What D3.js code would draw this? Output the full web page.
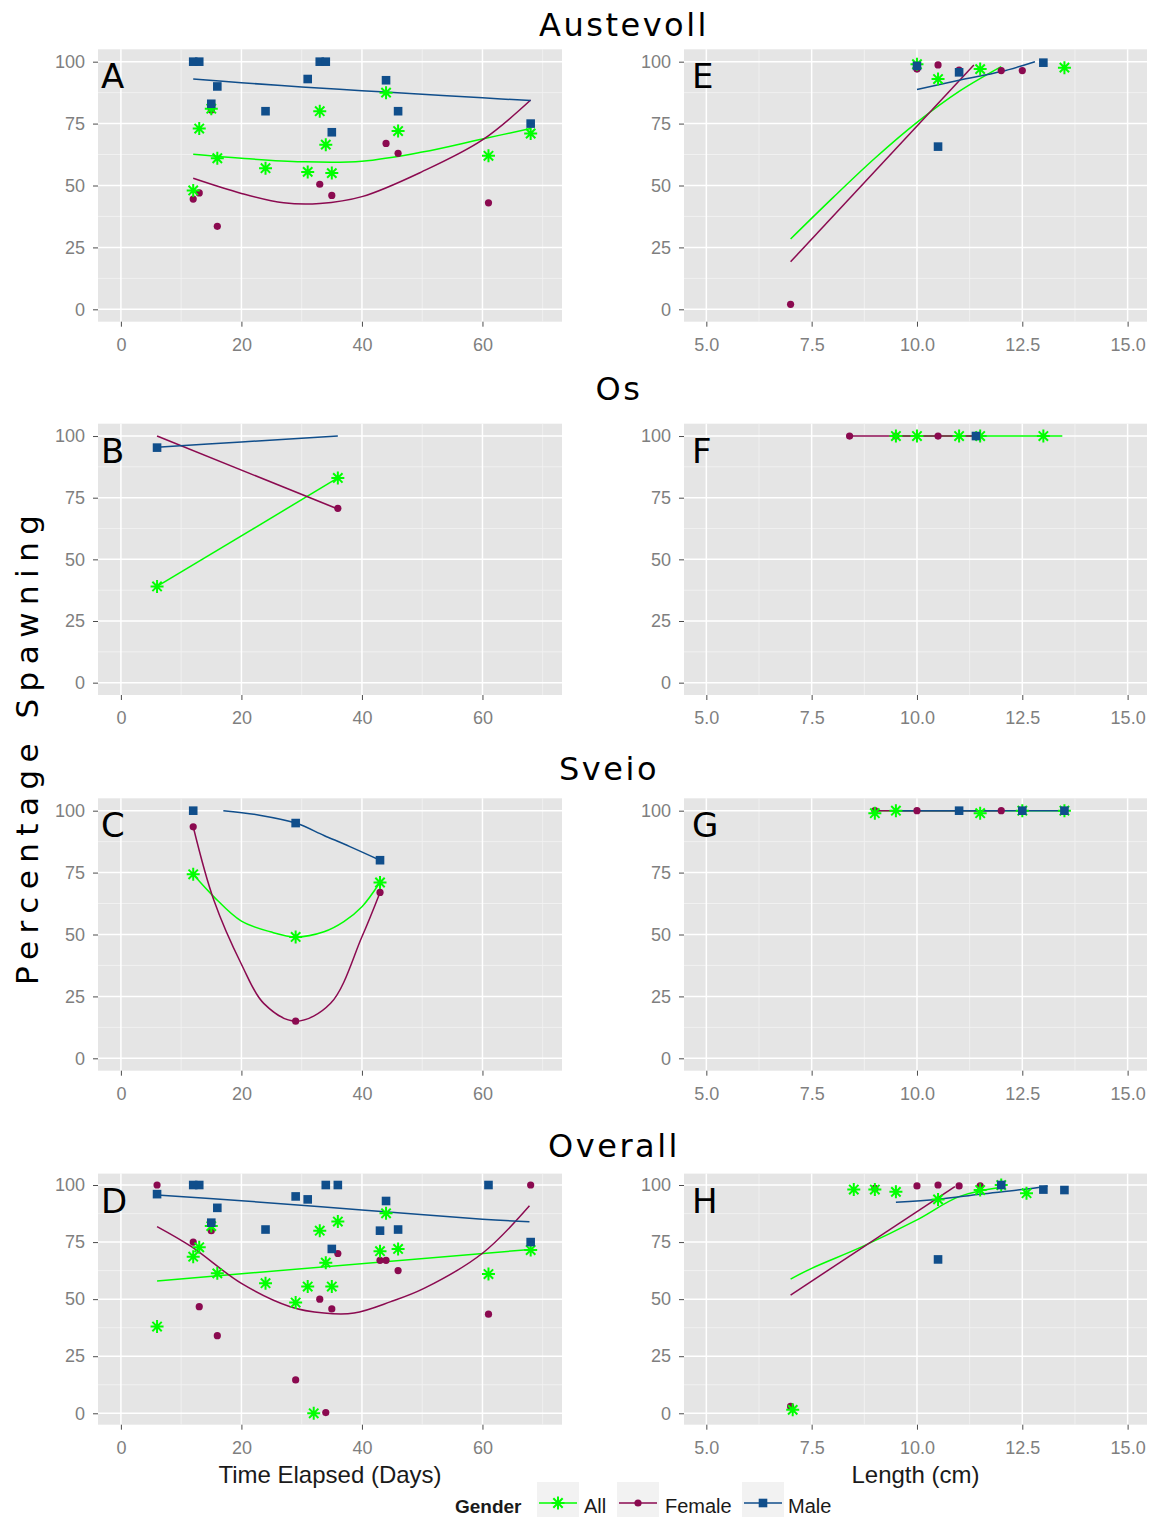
<!DOCTYPE html>
<html lang="en">
<head>
<meta charset="UTF-8">
<title>Percentage Spawning</title>
<style>
  body { margin: 0; background: #fff; }
  svg { display: block; }
  .tick text { font: 18px "Liberation Sans", Arial, sans-serif; fill: #7f7f7f; }
  .tick line { stroke: #4d4d4d; }
  .facet-title { font: 32px "DejaVu Sans", sans-serif; letter-spacing: 2.5px; text-anchor: middle; fill: #000; }
  .panel-tag { font: 34px "DejaVu Sans", sans-serif; fill: #000; }
  .axis-title { font: 24px "Liberation Sans", Arial, sans-serif; fill: #1a1a1a; text-anchor: middle; }
  .y-title { font: 31px "DejaVu Sans", sans-serif; fill: #000; text-anchor: middle; }
  .legend text { font: 20px "Liberation Sans", Arial, sans-serif; fill: #1a1a1a; }
  .legend .legend-title { font-weight: bold; font-size: 19px; }
</style>
</head>
<body>
<svg width="1151" height="1517"></svg>
<script src="https://cdnjs.cloudflare.com/ajax/libs/d3/7.8.5/d3.min.js"></script>
<script>
  // ---- data: [x, percentage] ----
  const groups = ["All", "Female", "Male"];
  const facetTitles = ["Austevoll", "Os", "Sveio", "Overall"];

  const daysTicks = [0, 20, 40, 60];
  const daysMinor = [10, 30, 50, 70];
  const lengthTicks = [5, 7.5, 10, 12.5, 15];
  const lengthMinor = [6.25, 8.75, 11.25, 13.75];
  const pctTicks = [0, 25, 50, 75, 100];
  const pctMinor = [12.5, 37.5, 62.5, 87.5];

  // Austevoll, time elapsed
  const aAll = [[12,48],[13,73],[15,81],[16,61],[24,57],[31,55.5],[33,80],[34,66.5],[35,55],[44,87.5],[46,72],[61,62],[68,71]];
  const aFemale = [[12,44.5],[13,47],[15,80.5],[16,33.5],[33,50.5],[35,46],[44,67],[46,63],[61,43]];
  const aMale = [[12,100],[13,100],[15,83],[16,90],[24,80],[31,93],[33,100],[34,100],[35,71.5],[44,92.5],[46,80],[68,75]];
  const aFitAll = [[12,62.6],[20,61],[30,59.6],[40,59.8],[50,63.5],[60,68.8],[68,73]];
  const aFitFemale = [[12,52.9],[20,46.8],[27,43],[33,42.7],[40,45.5],[50,55.6],[60,68.4],[68,84.5]];
  const aFitMale = [[12,93],[20,91.5],[30,89.8],[40,88.3],[50,86.8],[60,85.4],[68,84.3]];

  // Os, time elapsed
  const bAll = [[6,39],[36,83]];
  const bFemale = [[36,70.7]];
  const bMale = [[6,95.3]];
  const bFitAll = [[6,39],[36,83]];
  const bFitFemale = [[6,100],[36,70.4]];
  const bFitMale = [[6,95.5],[20,97.6],[36,100]];

  // Sveio, time elapsed
  const cAll = [[12,74.3],[29,49],[43,71]];
  const cFemale = [[12,93.5],[29,15],[43,67]];
  const cMale = [[12,100],[29,95],[43,80]];
  const cFitAll = [[12,74.3],[15.4,65.3],[20,55.4],[24.8,51.1],[29,49],[33.7,51.1],[37,55.2],[40,61.2],[43,71.1]];
  const cFitFemale = [[12,93.5],[15.4,64],[20,38],[23.7,22.2],[29,15],[34.8,22.2],[40,49.1],[43,67]];
  const cFitMale = [[17,100],[23,98.2],[29,95],[33.7,90],[38,85.5],[43,80]];

  // Overall, time elapsed
  const dAll = [[6,38],[12,68.6],[13,72.7],[15,82],[16,61.3],[24,57],[29,48.5],[31,55.5],[32,0],[33,80],[34,66],[35,55.5],[36,84],[43,71],[44,87.6],[46,72],[61,61],[68,71.5]];
  const dFemale = [[6,100],[12,75],[13,46.7],[15,80],[16,34],[29,14.6],[33,50],[34,0.3],[35,45.7],[36,70],[43,67],[44,67],[46,62.5],[61,43.4],[68,100]];
  const dMale = [[6,96],[12,100],[13,100],[15,83.5],[16,90],[24,80.5],[29,95],[31,93.7],[34,100],[35,72],[36,100],[43,80],[44,93],[46,80.5],[61,100],[68,75]];
  const dFitAll = [[6,58],[68,71.8]];
  const dFitFemale = [[6,81.8],[11.7,73],[20,56.9],[28.1,46.7],[33.7,43.9],[38.7,43.9],[44.8,48.9],[50.3,54.7],[60,70.1],[67.8,90.9]];
  const dFitMale = [[6,95.6],[20,93.1],[40,89.1],[60,85],[67.8,83.9]];

  // Austevoll, length
  const eAll = [[10,99],[10.5,93],[11.5,97],[13.5,97.6]];
  const eFemale = [[7,2],[10,97],[10.5,98.7],[11,96.6],[12,96.4],[12.5,96.4]];
  const eMale = [[10,98.3],[10.5,65.7],[11,95.7],[13,99.6]];
  const eFitAll = [[7,28.4],[8,45],[9,61],[10,75.5],[11,88],[12,98]];
  const eFitFemale = [[7,19.2],[11.35,98.7]];
  const eFitMale = [[10,88.8],[11,92.5],[12,96],[12.8,100]];

  // Os, length
  const fAll = [[9.5,100],[10,100],[11,100],[11.5,100],[13,100]];
  const fFemale = [[8.4,100],[9.5,100],[10.5,100],[11.4,100]];
  const fMale = [[11.4,100]];
  const fFitAll = [[9.5,100],[13.45,100]];
  const fFitFemale = [[8.4,100],[11.4,100]];
  const fFitMale = [];

  // Sveio, length
  const gAll = [[9,99],[9.5,100],[11.5,99],[12.5,100],[13.5,100]];
  const gFemale = [[9,100],[10,100],[12,100]];
  const gMale = [[11,100],[12.5,100],[13.5,100]];
  const gFitAll = [[9,100],[13.5,100]];
  const gFitFemale = [[9,100],[12,100]];
  const gFitMale = [[9.5,100],[13.5,100]];

  // Overall, length
  const hAll = [[7.05,1.5],[8.5,98],[9,98],[9.5,97],[10.5,93.7],[11.5,97.8],[12,100],[12.6,96.4]];
  const hFemale = [[7,3],[9,98.5],[10,99.6],[10.5,100],[11,99.6],[11.5,99.6],[12,100]];
  const hMale = [[10.5,67.4],[12,100],[13,98],[13.5,97.8]];
  const hFitAll = [[7,58.8],[7.5,63.5],[8.7,73],[10,84.7],[11,94.9],[12,99]];
  const hFitFemale = [[7,51.8],[10.9,99.3]];
  const hFitMale = [[9.5,92.4],[10.5,93.8],[11.5,96],[12.5,98],[13.1,99.6]];

  // ---- layout ----
  const color = d3.scaleOrdinal().domain(groups).range(["#00FF00", "#8B0A50", "#104E8B"]);

  const cols = [
    {left: 98, right: 562, domain: [-3.8, 73.2], ticks: daysTicks, minor: daysMinor, fmt: d3.format("d"), tagDx: 3},
    {left: 684, right: 1147, domain: [4.47, 15.46], ticks: lengthTicks, minor: lengthMinor, fmt: d3.format(".1f"), tagDx: 8}
  ];
  const rows = [
    {top: 49.3, bottom: 321.7, title: 36, titleX: 624},
    {top: 423.7, bottom: 695, title: 400, titleX: 619},
    {top: 798.3, bottom: 1070.7, title: 780, titleX: 609},
    {top: 1173.6, bottom: 1424.7, title: 1157, titleX: 614}
  ];

  const panels = [
    {tag: "A", row: 0, col: 0, pts: [aAll, aFemale, aMale], fits: [aFitAll, aFitFemale, aFitMale]},
    {tag: "B", row: 1, col: 0, pts: [bAll, bFemale, bMale], fits: [bFitAll, bFitFemale, bFitMale]},
    {tag: "C", row: 2, col: 0, pts: [cAll, cFemale, cMale], fits: [cFitAll, cFitFemale, cFitMale]},
    {tag: "D", row: 3, col: 0, pts: [dAll, dFemale, dMale], fits: [dFitAll, dFitFemale, dFitMale]},
    {tag: "E", row: 0, col: 1, pts: [eAll, eFemale, eMale], fits: [eFitAll, eFitFemale, eFitMale]},
    {tag: "F", row: 1, col: 1, pts: [fAll, fFemale, fMale], fits: [fFitAll, fFitFemale, fFitMale]},
    {tag: "G", row: 2, col: 1, pts: [gAll, gFemale, gMale], fits: [gFitAll, gFitFemale, gFitMale]},
    {tag: "H", row: 3, col: 1, pts: [hAll, hFemale, hMale], fits: [hFitAll, hFitFemale, hFitMale]}
  ];

  const svg = d3.select("svg");

  function starPath(s) {
    const a = s * 0.72;
    return "M" + (-s) + ",0L" + s + ",0M0," + (-s) + "L0," + s +
      "M" + (-a) + "," + (-a) + "L" + a + "," + a + "M" + (-a) + "," + a + "L" + a + "," + (-a);
  }

  // draw one marker of a group at (0,0) inside sel
  function marker(sel, group) {
    if (group === "All") {
      sel.append("path").attr("d", starPath(6.5))
        .attr("stroke", color(group)).attr("stroke-width", 2).attr("fill", "none");
    } else if (group === "Female") {
      sel.append("circle").attr("r", 3.6).attr("fill", color(group));
    } else {
      sel.append("rect").attr("x", -4.3).attr("y", -4.3).attr("width", 8.6).attr("height", 8.6)
        .attr("fill", color(group));
    }
  }

  rows.forEach(function (r, i) {
    svg.append("text").attr("class", "facet-title")
      .attr("x", r.titleX).attr("y", r.title).text(facetTitles[i]);
  });

  panels.forEach(function (p) {
    const c = cols[p.col], r = rows[p.row];
    const x = d3.scaleLinear().domain(c.domain).range([c.left, c.right]);
    const y = d3.scaleLinear().domain([-5, 105]).range([r.bottom, r.top]);
    const g = svg.append("g");

    g.append("rect")
      .attr("x", c.left).attr("y", r.top)
      .attr("width", c.right - c.left).attr("height", r.bottom - r.top)
      .attr("fill", "#e5e5e5");

    // minor grid
    g.selectAll(".vminor").data(c.minor).enter().append("line")
      .attr("x1", d => x(d)).attr("x2", d => x(d)).attr("y1", r.top).attr("y2", r.bottom)
      .attr("stroke", "#f2f2f2").attr("stroke-width", 0.9);
    g.selectAll(".hminor").data(pctMinor).enter().append("line")
      .attr("y1", d => y(d)).attr("y2", d => y(d)).attr("x1", c.left).attr("x2", c.right)
      .attr("stroke", "#f2f2f2").attr("stroke-width", 0.9);
    // major grid
    g.selectAll(".vmajor").data(c.ticks).enter().append("line")
      .attr("x1", d => x(d)).attr("x2", d => x(d)).attr("y1", r.top).attr("y2", r.bottom)
      .attr("stroke", "#fff").attr("stroke-width", 1.5);
    g.selectAll(".hmajor").data(pctTicks).enter().append("line")
      .attr("y1", d => y(d)).attr("y2", d => y(d)).attr("x1", c.left).attr("x2", c.right)
      .attr("stroke", "#fff").attr("stroke-width", 1.5);

    // fitted lines
    const line = d3.line().x(d => x(d[0])).y(d => y(d[1])).curve(d3.curveCatmullRom.alpha(0.5));
    p.fits.forEach(function (f, i) {
      if (!f.length) return;
      g.append("path").attr("d", line(f))
        .attr("fill", "none").attr("stroke", color(groups[i])).attr("stroke-width", 1.5);
    });

    // points: Female, All, Male
    [1, 0, 2].forEach(function (i) {
      g.selectAll(null).data(p.pts[i]).enter().append("g")
        .attr("transform", d => "translate(" + x(d[0]) + "," + y(d[1]) + ")")
        .each(function () { marker(d3.select(this), groups[i]); });
    });

    g.append("text").attr("class", "panel-tag")
      .attr("x", c.left + c.tagDx).attr("y", r.top + 39).text(p.tag);

    // axes
    const ax = g.append("g").attr("transform", "translate(0," + r.bottom + ")")
      .call(d3.axisBottom(x).tickValues(c.ticks).tickFormat(c.fmt).tickSize(5).tickPadding(11.5));
    const ay = g.append("g").attr("transform", "translate(" + c.left + ",0)")
      .call(d3.axisLeft(y).tickValues(pctTicks).tickSize(5).tickPadding(8));
    ax.select(".domain").remove();
    ay.select(".domain").remove();
    [ax, ay].forEach(a => a.attr("font-family", null).attr("font-size", null));
  });

  // axis titles
  svg.append("text").attr("class", "axis-title")
    .attr("x", (cols[0].left + cols[0].right) / 2).attr("y", 1483).text("Time Elapsed (Days)");
  svg.append("text").attr("class", "axis-title")
    .attr("x", (cols[1].left + cols[1].right) / 2).attr("y", 1483).text("Length (cm)");
  svg.append("text").attr("class", "y-title")
    .attr("transform", "translate(38,750) rotate(-90)")
    .attr("textLength", 470).attr("lengthAdjust", "spacing")
    .text("Percentage Spawning");

  // legend
  const legend = svg.append("g").attr("class", "legend");
  legend.append("text").attr("class", "legend-title").attr("x", 455).attr("y", 1513).text("Gender");
  const keyX = [537, 617, 742];
  const labelX = [584, 665, 788];
  groups.forEach(function (grp, i) {
    const k = legend.append("g").attr("transform", "translate(" + keyX[i] + ",1482)");
    k.append("rect").attr("width", 42).attr("height", 36).attr("fill", "#f2f2f2");
    k.append("line").attr("x1", 2).attr("x2", 40).attr("y1", 21).attr("y2", 21)
      .attr("stroke", color(grp)).attr("stroke-width", 1.6);
    const m = k.append("g").attr("transform", "translate(21,21)");
    marker(m, grp);
    legend.append("text").attr("x", labelX[i]).attr("y", 1513).text(grp);
  });
</script>
</body>
</html>
